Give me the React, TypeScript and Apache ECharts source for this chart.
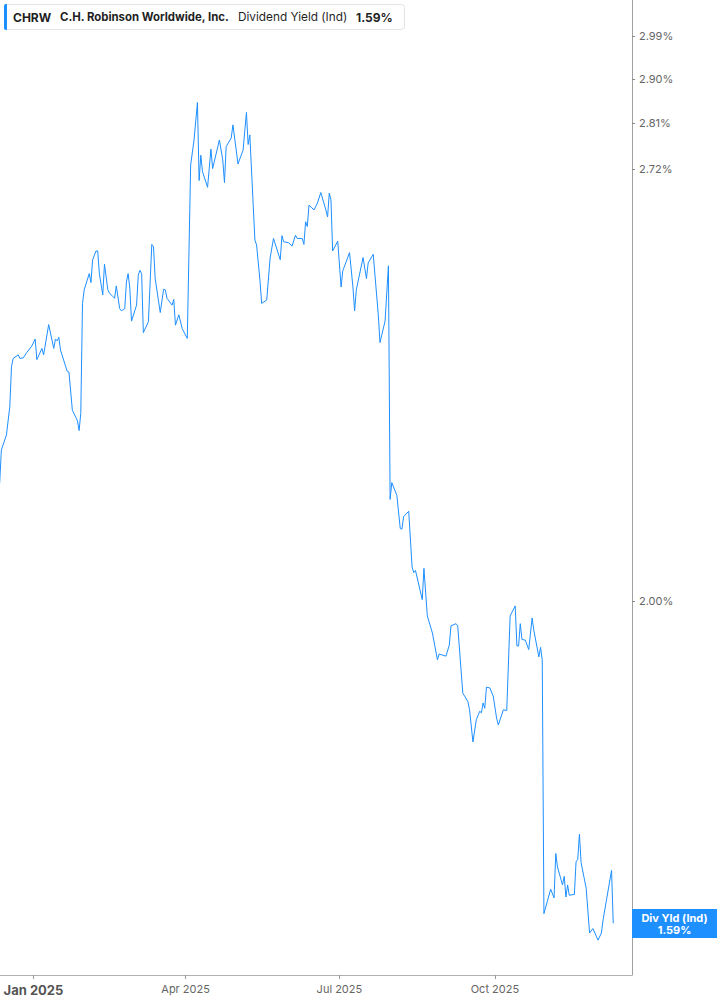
import { useEffect, useRef } from 'react';
import * as echarts from 'echarts';

// CHRW dividend yield (Ind), in percent
const dates = [
  '2024-12-12', '2024-12-13', '2024-12-16', '2024-12-18', '2024-12-19', '2024-12-20', '2024-12-23', '2024-12-24', '2024-12-26', '2024-12-28', '2024-12-31',
  '2025-01-02', '2025-01-03', '2025-01-06', '2025-01-07', '2025-01-10', '2025-01-13', '2025-01-14', '2025-01-15', '2025-01-16', '2025-01-17', '2025-01-21', '2025-01-22', '2025-01-24', '2025-01-27', '2025-01-28', '2025-01-29', '2025-01-30', '2025-01-31',
  '2025-02-03', '2025-02-04', '2025-02-05', '2025-02-07', '2025-02-08', '2025-02-09', '2025-02-11', '2025-02-12', '2025-02-14', '2025-02-15', '2025-02-17', '2025-02-18', '2025-02-19', '2025-02-21', '2025-02-22', '2025-02-24', '2025-02-25', '2025-02-26', '2025-02-27', '2025-02-28',
  '2025-03-03', '2025-03-04', '2025-03-05', '2025-03-06', '2025-03-07', '2025-03-10', '2025-03-12', '2025-03-13', '2025-03-14', '2025-03-17', '2025-03-19', '2025-03-20', '2025-03-21', '2025-03-24', '2025-03-25', '2025-03-26', '2025-03-28', '2025-03-30',
  '2025-04-02', '2025-04-04', '2025-04-06', '2025-04-08', '2025-04-09', '2025-04-10', '2025-04-11', '2025-04-14', '2025-04-16', '2025-04-17', '2025-04-21', '2025-04-23', '2025-04-24', '2025-04-25', '2025-04-28', '2025-04-29',
  '2025-05-02', '2025-05-05', '2025-05-07', '2025-05-08', '2025-05-09', '2025-05-12', '2025-05-13', '2025-05-15', '2025-05-16', '2025-05-19', '2025-05-21', '2025-05-23', '2025-05-27', '2025-05-28', '2025-05-29',
  '2025-06-01', '2025-06-03', '2025-06-05', '2025-06-06', '2025-06-09', '2025-06-10', '2025-06-11', '2025-06-12', '2025-06-13', '2025-06-16', '2025-06-18', '2025-06-20', '2025-06-23', '2025-06-24', '2025-06-25', '2025-06-26', '2025-06-27', '2025-06-30',
  '2025-07-02', '2025-07-03', '2025-07-07', '2025-07-09', '2025-07-10', '2025-07-11', '2025-07-15', '2025-07-17', '2025-07-18', '2025-07-21', '2025-07-24', '2025-07-25', '2025-07-28', '2025-07-30', '2025-07-31',
  '2025-08-01', '2025-08-04', '2025-08-06', '2025-08-07', '2025-08-08', '2025-08-11', '2025-08-13', '2025-08-14', '2025-08-15', '2025-08-19', '2025-08-20', '2025-08-22', '2025-08-25', '2025-08-28', '2025-08-29',
  '2025-09-02', '2025-09-04', '2025-09-05', '2025-09-08', '2025-09-09', '2025-09-12', '2025-09-15', '2025-09-16', '2025-09-18', '2025-09-20', '2025-09-22', '2025-09-23', '2025-09-24', '2025-09-25', '2025-09-26', '2025-09-28', '2025-09-30',
  '2025-10-02', '2025-10-03', '2025-10-06', '2025-10-08', '2025-10-10', '2025-10-13', '2025-10-14', '2025-10-15', '2025-10-16', '2025-10-17', '2025-10-19', '2025-10-21', '2025-10-23', '2025-10-24', '2025-10-27', '2025-10-28', '2025-10-29', '2025-10-30',
  '2025-11-01', '2025-11-03', '2025-11-05', '2025-11-06', '2025-11-07', '2025-11-10', '2025-11-11', '2025-11-12', '2025-11-13', '2025-11-14', '2025-11-17', '2025-11-18', '2025-11-19', '2025-11-20', '2025-11-21', '2025-11-24', '2025-11-26', '2025-11-28',
  '2025-12-01', '2025-12-03', '2025-12-04', '2025-12-09', '2025-12-10',
];

const divYield = [
  2.175, 2.227, 2.251, 2.297, 2.363, 2.377, 2.383, 2.377, 2.378, 2.387, 2.398,
  2.410, 2.375, 2.394, 2.383, 2.435, 2.394, 2.410, 2.407, 2.413, 2.391, 2.355, 2.354, 2.291, 2.274, 2.258, 2.286, 2.472, 2.496,
  2.525, 2.509, 2.550, 2.566, 2.566, 2.525, 2.487, 2.542, 2.496, 2.490, 2.484, 2.481, 2.503, 2.463, 2.459, 2.463, 2.510, 2.525, 2.499, 2.441,
  2.469, 2.522, 2.531, 2.525, 2.421, 2.440, 2.578, 2.574, 2.516, 2.456, 2.497, 2.496, 2.481, 2.469, 2.479, 2.434, 2.452, 2.428,
  2.411, 2.728, 2.777, 2.852, 2.698, 2.747, 2.715, 2.685, 2.759, 2.721, 2.777, 2.738, 2.694, 2.764, 2.781, 2.807,
  2.730, 2.757, 2.832, 2.768, 2.787, 2.586, 2.577, 2.513, 2.472, 2.478, 2.553, 2.589, 2.550, 2.594, 2.583,
  2.581, 2.575, 2.595, 2.589, 2.589, 2.578, 2.620, 2.611, 2.651, 2.642, 2.655, 2.675, 2.642, 2.629, 2.674, 2.661, 2.566, 2.584,
  2.501, 2.530, 2.563, 2.501, 2.459, 2.496, 2.554, 2.516, 2.544, 2.560, 2.452, 2.404, 2.441, 2.539, 2.150,
  2.176, 2.156, 2.106, 2.105, 2.124, 2.132, 2.049, 2.041, 2.044, 2.002, 2.047, 1.979, 1.955, 1.918, 1.926,
  1.923, 1.938, 1.965, 1.968, 1.965, 1.873, 1.862, 1.851, 1.809, 1.838, 1.849, 1.847, 1.860, 1.853, 1.881, 1.880, 1.869,
  1.840, 1.831, 1.851, 1.850, 1.979, 1.993, 1.937, 1.937, 1.968, 1.946, 1.945, 1.932, 1.976, 1.959, 1.922, 1.935, 1.918, 1.601,
  1.615, 1.629, 1.619, 1.671, 1.655, 1.634, 1.644, 1.620, 1.634, 1.622, 1.623, 1.661, 1.664, 1.694, 1.660, 1.630, 1.579, 1.584,
  1.571, 1.579, 1.594, 1.651, 1.590,
];

const yTickValues = [2.0, 2.72, 2.81, 2.9, 2.99];
const xTickDates = ['2025-01-01', '2025-04-01', '2025-07-01', '2025-10-01'];
const monthNames = ['Jan', 'Feb', 'Mar', 'Apr', 'May', 'Jun', 'Jul', 'Aug', 'Sep', 'Oct', 'Nov', 'Dec'];

const lastYield = 1.59;
const yRange = [1.5325, 3.068];

const BLUE = '#1e8fff';
const FONT = 'Inter';
const DAY = 86400000;

const toTime = (s: string) => {
  const [y, m, d] = s.split('-').map(Number);
  return Date.UTC(y, m - 1, d);
};

export default function App() {
  const chartRef = useRef<HTMLDivElement>(null);

  useEffect(() => {
    if (!chartRef.current) return;
    const chart = echarts.init(chartRef.current, null, { renderer: 'svg' });

    // log scale: plot ln(yield) on a value axis, dates as timestamps
    const seriesData = dates.map((d, i) => [toTime(d), Math.log(divYield[i])]);
    const yTicks = yTickValues.map((v) => Math.log(v));
    const xTicks = xTickDates.map(toTime);
    const jan1 = xTicks[0];

    chart.setOption({
      animation: false,
      backgroundColor: '#fff',
      grid: { left: 0, right: 85, top: 0, bottom: 30 },
      xAxis: {
        type: 'value',
        min: jan1 - 19.8 * DAY,
        max: jan1 + 354.1 * DAY,
        splitLine: { show: false },
        axisLine: { show: true, lineStyle: { color: '#b0b0b0', width: 1 } },
        axisTick: { show: true, length: 4, lineStyle: { color: '#999' }, customValues: xTicks },
        axisLabel: {
          customValues: xTicks,
          hideOverlap: false,
          margin: 8,
          formatter: (v: number) => {
            const dt = new Date(v);
            const txt = monthNames[dt.getUTCMonth()] + ' ' + dt.getUTCFullYear();
            return dt.getUTCMonth() === 0 ? '{y|' + txt + '}' : '{m|' + txt + '}';
          },
          rich: {
            y: { fontFamily: FONT, fontSize: 13, fontWeight: 'bold', color: '#555' },
            m: { fontFamily: FONT, fontSize: 11, color: '#666' },
          },
        },
      },
      yAxis: {
        type: 'value',
        position: 'right',
        min: Math.log(yRange[0]),
        max: Math.log(yRange[1]),
        splitLine: { show: false },
        axisLine: { show: true, lineStyle: { color: '#a0a0a0', width: 1 } },
        axisTick: { show: true, length: 3, lineStyle: { color: '#888' }, customValues: yTicks },
        axisLabel: {
          customValues: yTicks,
          margin: 7,
          fontFamily: FONT,
          fontSize: 11,
          color: '#666',
          formatter: (v: number) => Math.exp(v).toFixed(2) + '%',
        },
      },
      series: [
        {
          type: 'line',
          data: seriesData,
          symbol: 'none',
          showSymbol: false,
          lineStyle: { color: BLUE, width: 1 },
          itemStyle: { color: BLUE },
          markLine: {
            silent: true,
            symbol: ['none', 'none'],
            animation: false,
            lineStyle: { color: 'transparent', width: 0 },
            data: [{ yAxis: Math.log(lastYield) }],
            label: {
              show: true,
              position: 'end',
              distance: 0,
              offset: [0, -5],
              backgroundColor: BLUE,
              padding: [2.5, 0, 2.5, 0],
              lineHeight: 12,
              formatter: '{a|Div Yld (Ind)}\n{a|' + lastYield.toFixed(2) + '%}',
              rich: {
                a: {
                  width: 85,
                  align: 'center',
                  color: '#fff',
                  fontFamily: FONT,
                  fontWeight: 'bold',
                  fontSize: 11,
                  lineHeight: 12,
                },
              },
            },
          },
        },
      ],
      graphic: [
        {
          type: 'rect',
          shape: { x: 4.5, y: 4.5, width: 400, height: 25, r: 3 },
          style: { fill: '#fff', stroke: '#e4e4e4', lineWidth: 1 },
          z: 100,
        },
        {
          type: 'rect',
          shape: { x: 4, y: 4, width: 3, height: 26, r: [2, 0, 0, 2] },
          style: { fill: BLUE },
          z: 101,
        },
        {
          type: 'text',
          x: 13,
          y: 17,
          z: 101,
          style: { text: 'CHRW', fill: '#1f1f1f', font: 'bold 12px ' + FONT, verticalAlign: 'middle' },
        },
        {
          type: 'text',
          x: 60,
          y: 17,
          z: 101,
          style: { text: 'C.H. Robinson Worldwide, Inc.', fill: '#1f1f1f', font: 'bold 11.4px ' + FONT, verticalAlign: 'middle' },
        },
        {
          type: 'text',
          x: 238,
          y: 17,
          z: 101,
          style: { text: 'Dividend Yield (Ind)', fill: '#1f1f1f', font: '11.8px ' + FONT, verticalAlign: 'middle' },
        },
        {
          type: 'text',
          x: 356,
          y: 17,
          z: 101,
          style: { text: lastYield.toFixed(2) + '%', fill: '#1f1f1f', font: 'bold 12px ' + FONT, verticalAlign: 'middle' },
        },
      ],
    });

    return () => chart.dispose();
  }, []);

  return (
    <div
      ref={chartRef}
      style={{ position: 'absolute', left: 0, top: 0, width: 717, height: 1005, background: '#fff' }}
    />
  );
}
